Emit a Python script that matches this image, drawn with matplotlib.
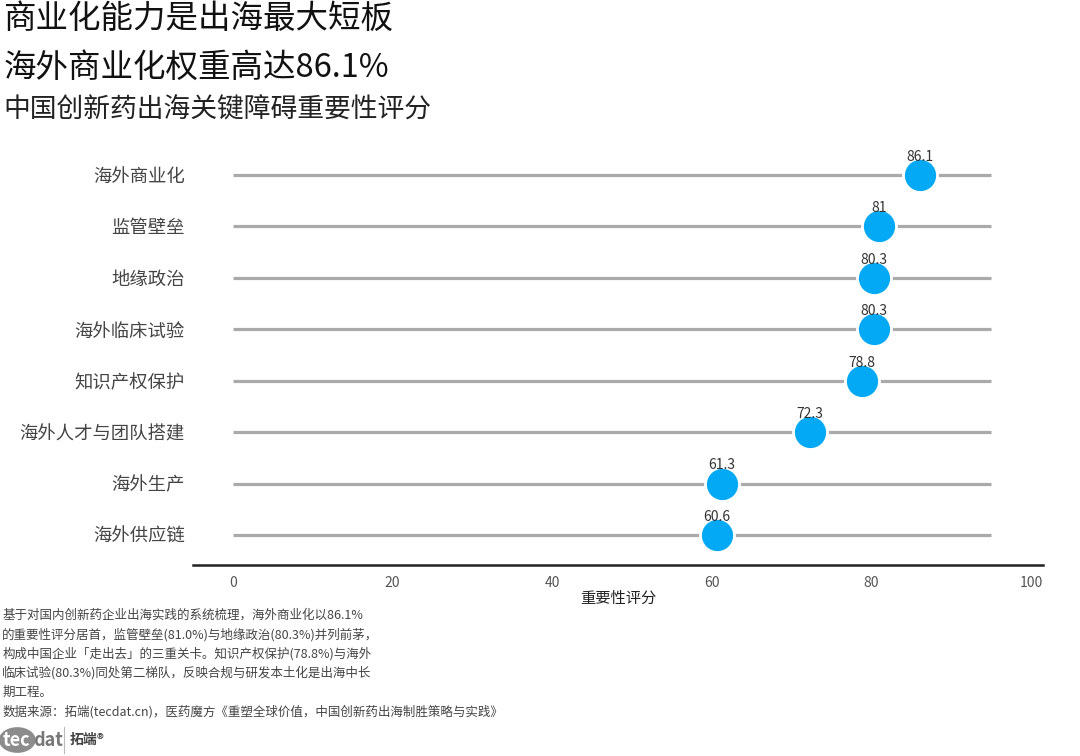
import matplotlib
matplotlib.use("Agg")
import matplotlib.pyplot as plt
from matplotlib.patches import Circle

plt.rcParams["font.family"] = ["Noto Sans CJK SC", "DejaVu Sans"]

categories = ["海外商业化", "监管壁垒", "地缘政治", "海外临床试验",
              "知识产权保护", "海外人才与团队搭建", "海外生产", "海外供应链"]
scores = [86.1, 81, 80.3, 80.3, 78.8, 72.3, 61.3, 60.6]
score_labels = ["86.1", "81", "80.3", "80.3", "78.8", "72.3", "61.3", "60.6"]
track_end = 95
xticks = [0, 20, 40, 60, 80, 100]

title1 = "商业化能力是出海最大短板"
title2 = "海外商业化权重高达86.1%"
subtitle = "中国创新药出海关键障碍重要性评分"
note_lines = [
    "基于对国内创新药企业出海实践的系统梳理，海外商业化以86.1%",
    "的重要性评分居首，监管壁垒(81.0%)与地缘政治(80.3%)并列前茅，",
    "构成中国企业「走出去」的三重关卡。知识产权保护(78.8%)与海外",
    "临床试验(80.3%)同处第二梯队，反映合规与研发本土化是出海中长",
    "期工程。",
    "数据来源：拓端(tecdat.cn)，医药魔方《重塑全球价值，中国创新药出海制胜策略与实践》",
]

fig = plt.figure(figsize=(10.8, 7.56), dpi=100)
ax = fig.add_axes([0.1787, 0.2526, 0.787, 0.5554])

ypos = list(range(len(categories)))[::-1]
for y, s, lab in zip(ypos, scores, score_labels):
    ax.hlines(y, 0, track_end, color="#aaaaaa", lw=2.3, zorder=1)
    ax.text(s, y + 0.22, lab, ha="center", va="bottom", fontsize=10,
            color="#333333", zorder=4)
ax.scatter(scores, ypos, s=600, color="#03a9f4", edgecolor="white",
           linewidth=2, zorder=3)

ax.set_xlim(-5, 101.5)
ax.set_ylim(-0.58, len(categories) - 1 + 0.58)
ax.set_yticks(ypos)
ax.set_yticklabels(categories, fontsize=13.2, color="#444444")
ax.set_xticks(xticks)
ax.set_xticklabels([str(t) for t in xticks], fontsize=10, color="#555555")
ax.tick_params(axis="both", length=0)
ax.tick_params(axis="x", pad=8)
ax.tick_params(axis="y", pad=6)
for side in ["top", "right", "left"]:
    ax.spines[side].set_visible(False)
ax.spines["bottom"].set_linewidth(1.8)
ax.spines["bottom"].set_color("#222222")
ax.set_xlabel("重要性评分", fontsize=11, color="#222222", labelpad=0)

fig.text(0.003, 0.975, title1, fontsize=23.4, color="#111111", va="center")
fig.text(0.003, 0.91, title2, fontsize=23.4, color="#111111", va="center")
fig.text(0.003, 0.855, subtitle, fontsize=19.3, color="#222222", va="center")

y0 = 615
for i, line in enumerate(note_lines):
    fig.text(0.002, 1 - (y0 + i * 19.3) / 756, line, fontsize=9,
             color="#444444", va="center")

# logo
logo_y = 1 - 740 / 756
fig.patches.append(Circle((0.016, logo_y), 0.017, transform=fig.transFigure,
                          facecolor="#8c8c8c", edgecolor="none",
                          zorder=0))
fig.text(0.002, logo_y, "tec", fontsize=13, color="white",
         fontweight="bold", va="center")
fig.text(0.031, logo_y, "dat", fontsize=13, color="#777777",
         fontweight="bold", va="center")
fig.lines.append(plt.Line2D([0.0595, 0.0595], [logo_y - 0.017, logo_y + 0.017],
                            transform=fig.transFigure, color="#bbbbbb", lw=0.8))
fig.text(0.064, logo_y, "拓端®", fontsize=10, color="#444444",
         fontweight="bold", va="center")

fig.savefig("out.png", dpi=100)
